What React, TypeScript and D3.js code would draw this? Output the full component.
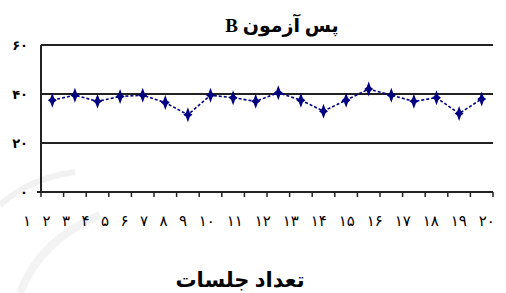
import * as d3 from 'd3';
import React from 'react';

// sessions 1..20 (post-test B)
const sessions = d3.range(1, 21);
const scores = [37.5, 39.5, 37, 39, 39.5, 36.5, 31.5, 39.5, 38.5, 37, 40.5, 37.5, 33, 37.5, 42, 39.5, 37, 38.5, 32, 38];
const yTicks = [0, 20, 40, 60];
const gridValues = [20, 40, 60];

const title = 'پس آزمون B';
const xTitle = 'تعداد جلسات';

const toFa = (n: number) => String(n).replace(/\d/g, d => '۰۱۲۳۴۵۶۷۸۹'[+d]);

const W = 506, H = 293;
const left = 41, right = 493, top = 45, bottom = 192;
const navy = '#000080';
const ink = '#222';
const font = '"Times New Roman", "Liberation Serif", "DejaVu Sans", serif';

export default function App() {
  const x = d3.scaleBand<number>().domain(sessions).range([left, right]);
  const y = d3.scaleLinear().domain([0, 60]).range([bottom, top]);

  const cx = (i: number) => x(sessions[i])! + x.bandwidth() / 2;

  const line = d3.line<number>()
    .x((d, i) => cx(i))
    .y(d => y(d));

  // tick labels in the original are laid out like a text run, not on the ticks
  const digitW = 8.5, gap = 11;
  const labels = sessions.map(toFa);
  const labelX: number[] = [];
  labels.forEach((l, i) => {
    if (i === 0) labelX.push(27);
    else labelX.push(labelX[i - 1] + labels[i - 1].length * digitW / 2 + gap + l.length * digitW / 2);
  });

  const star = 'M0,-7.5L2,-2L4.5,0L2,2L0,7.5L-2,2L-4.5,0L-2,-2Z';
  const tickXs = sessions.map(s => x(s)!).concat([right]);

  return (
    <svg width={W} height={H} style={{ position: 'absolute', left: 0, top: 0, background: '#fff' }} fontFamily={font}>
      {/* faint watermark */}
      <path d="M0,205 Q30,178 75,172" fill="none" stroke="#f1f1f1" strokeWidth={6} />
      <path d="M20,293 Q40,240 100,215" fill="none" stroke="#f3f3f3" strokeWidth={8} />

      <text x={282} y={32} textAnchor="middle" direction="rtl" fontSize={19} fontWeight="bold" fill="#000">{title}</text>

      {gridValues.map(v => (
        <line key={v} x1={left} x2={right} y1={y(v)} y2={y(v)} stroke={ink} strokeWidth={2} />
      ))}
      <line x1={left} x2={left} y1={top} y2={bottom} stroke={ink} strokeWidth={2} />
      <line x1={left - 4} x2={left} y1={bottom} y2={bottom} stroke={ink} strokeWidth={2} />
      <line x1={left} x2={right} y1={bottom} y2={bottom} stroke={ink} strokeWidth={2} />
      {tickXs.map((t, i) => (
        <line key={i} x1={t} x2={t} y1={bottom} y2={bottom + 5} stroke={ink} strokeWidth={1.5} />
      ))}

      {yTicks.map(v => (
        <text key={v} x={28} y={y(v) + 5} textAnchor="end" fontSize={13} fontWeight="bold" fill="#000">{toFa(v)}</text>
      ))}

      {labels.map((l, i) => (
        <text key={i} x={labelX[i]} y={226} textAnchor="middle" fontSize={15} fill="#000">{l}</text>
      ))}

      <path d={line(scores)!} fill="none" stroke={navy} strokeWidth={1.6} strokeDasharray="3,2" />
      {scores.map((v, i) => (
        <path key={i} d={star} transform={`translate(${cx(i)},${y(v)})`} fill={navy} />
      ))}

      <text x={240} y={287} textAnchor="middle" direction="rtl" fontSize={21} fontWeight="bold" fill="#000">{xTitle}</text>
    </svg>
  );
}
